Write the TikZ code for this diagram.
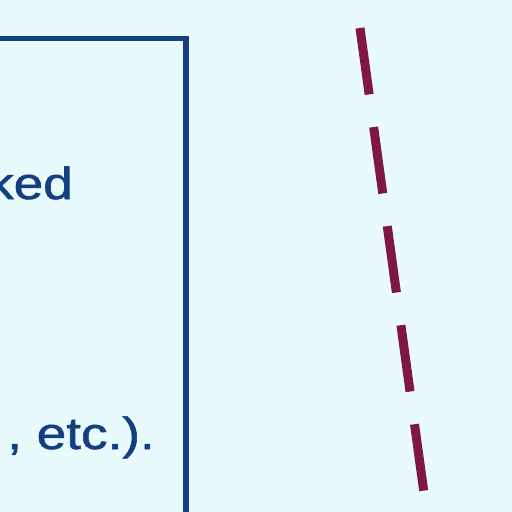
\documentclass[tikz,border=0pt]{standalone}
\usepackage{fontspec}
\setmainfont{Liberation Sans}[FakeBold=1.2]
\newfontfamily\heavysans{Liberation Sans}[FakeBold=1.2]
\definecolor{bgcyan}{RGB}{232,250,252}
\definecolor{boxblue}{RGB}{20,62,130}
\definecolor{maroon}{RGB}{128,22,72}
\begin{document}
\begin{tikzpicture}[x=1pt,y=-1pt,
  txt/.style={inner sep=0pt,anchor=base east,text=boxblue,font=\heavysans\fontsize{45}{52}\selectfont},
  boxline/.style={draw=boxblue,line width=5.5pt},
  dashline/.style={draw=maroon,line width=9pt,dash pattern=on 67pt off 33pt}]
\fill[bgcyan] (0,0) rectangle (512,512);
\useasboundingbox (0,0) rectangle (512,512);
\coordinate (tl) at (-5,38.5);
\coordinate (tr) at (186,38.5);
\coordinate (br) at (186,520);
\draw[boxline] (tl) -- (tr) -- (br);
\node[txt] (l1) at (73,199) {\scalebox{1.18}[1]{ked}};
\node[txt] (l2) at (155,449) {\scalebox{1.18}[1]{, etc.).}};
\coordinate (d1) at (360,28);
\coordinate (d2) at (424,493);
\draw[dashline] (d1) -- (d2);
\end{tikzpicture}
\end{document}
